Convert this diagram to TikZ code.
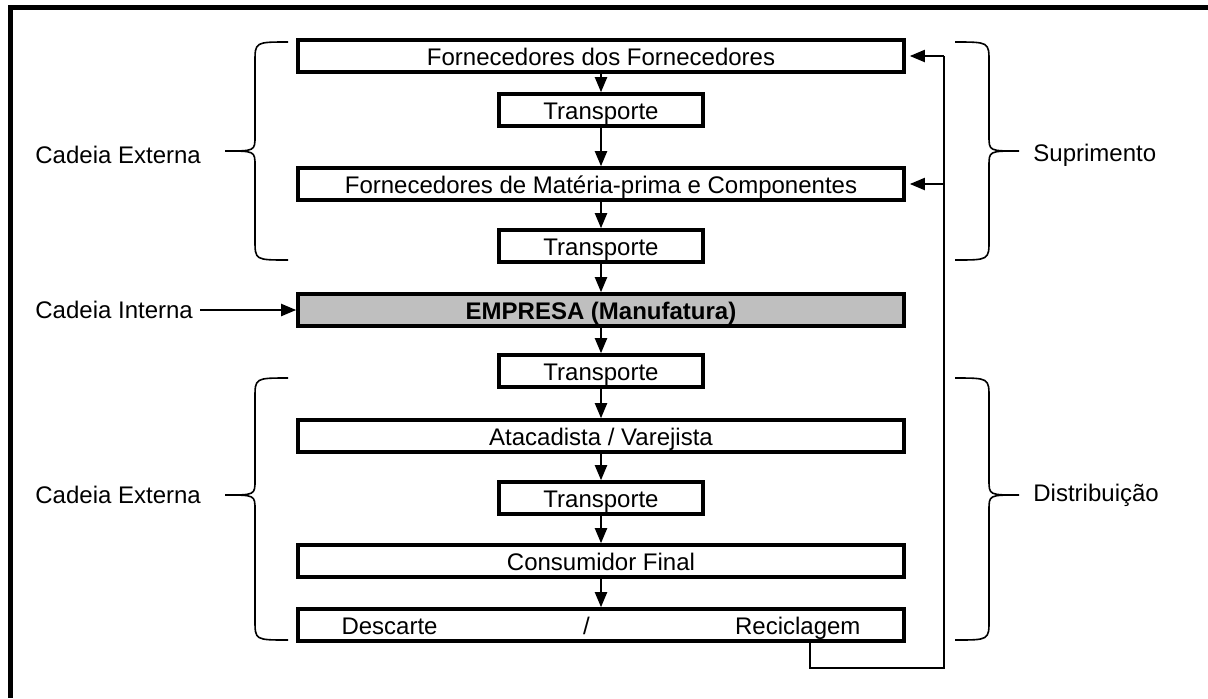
\documentclass[tikz,border=0pt]{standalone}
\usepackage{fontspec}
\setmainfont{Liberation Sans}
\usetikzlibrary{arrows.meta,positioning}

\begin{document}
\begin{tikzpicture}[x=0.5pt,y=-0.5pt,>={Triangle[length=7.5pt,width=6pt]},
                        font=\fontsize{12pt}{14pt}\selectfont,
                        elo/.style={draw,line width=1.8pt,minimum width=303pt,minimum height=16pt,
                          inner sep=0pt,text height=9pt,text depth=0pt},
                        transp/.style={elo,minimum width=102pt},
                        seta/.style={->,line width=1pt},
                        chave/.style={line width=0.8pt},
                        rotulo/.style={anchor=west,inner sep=0pt}]
                        \useasboundingbox (0,0) rectangle (1208,698);
                        \draw[line width=2.5pt] (1208,7) -- (10,7) -- (10,698);

                        \node[elo] (forn2) at (601,56) {Fornecedores dos Fornecedores};
                        \node[transp] (t1) at (601,110) {Transporte};
                        \node[elo] (forn1) at (601,184) {Fornecedores de Matéria-prima e Componentes};
                        \node[transp] (t2) at (601,246) {Transporte};
                        \node[elo,fill=black!25,font=\fontsize{12pt}{14pt}\selectfont\bfseries] (emp) at (601,310) {EMPRESA (Manufatura)};
                        \node[transp] (t3) at (601,371) {Transporte};
                        \node[elo] (atac) at (601,436) {Atacadista / Varejista};
                        \node[transp] (t4) at (601,498) {Transporte};
                        \node[elo] (cons) at (601,561) {Consumidor Final};
                        \node[elo] (desc) at (601,625) {\makebox[259.5pt]{Descarte\hfill/\hfill Reciclagem}};

                        \path[seta]
                        (forn2) edge (t1)
                        (t1) edge (forn1)
                        (forn1) edge (t2)
                        (t2) edge (emp)
                        (emp) edge (t3)
                        (t3) edge (atac)
                        (atac) edge (t4)
                        (t4) edge (cons)
                        (cons) edge (desc)
                        ;

                        % retorno da reciclagem
                        \coordinate (canto) at (944,668);
                        \draw[line width=0.8pt] (desc.south -| 810,0) |- (canto) -- (canto |- forn2.east);
                        \draw[seta,shorten >=2pt] (canto |- forn2.east) -- (forn2.east);
                        \draw[seta,shorten >=2pt] (canto |- forn1.east) -- (forn1.east);

                        % chaves
                        \draw[chave] (288,42) .. controls (255,42) .. (255,62) -- (255,136)
                          .. controls (255,151) .. (225,151) .. controls (255,151) .. (255,166)
                          -- (255,240) .. controls (255,260) .. (288,260);
                        \draw[chave] (288,378) .. controls (255,378) .. (255,398) -- (255,480)
                          .. controls (255,495) .. (225,495) .. controls (255,495) .. (255,510)
                          -- (255,620) .. controls (255,640) .. (288,640);
                        \draw[chave] (955,42) .. controls (989,42) .. (989,62) -- (989,136)
                          .. controls (989,151) .. (1019,151) .. controls (989,151) .. (989,166)
                          -- (989,240) .. controls (989,260) .. (955,260);
                        \draw[chave] (955,378) .. controls (989,378) .. (989,398) -- (989,480)
                          .. controls (989,495) .. (1019,495) .. controls (989,495) .. (989,510)
                          -- (989,620) .. controls (989,640) .. (955,640);

                        \node[rotulo] (ext1) at (35,155) {Cadeia Externa};
                        \node[rotulo] (int) at (35,310) {Cadeia Interna};
                        \node[rotulo] (ext2) at (35,495) {Cadeia Externa};
                        \node[rotulo] (supr) at (1033,155) {Suprimento};
                        \node[rotulo] (dist) at (1033,495) {Distribuição};
                        \draw[seta] (int.east) ++(7,0) coordinate (ini) (ini) -- (emp.west);
\end{tikzpicture}
\end{document}
